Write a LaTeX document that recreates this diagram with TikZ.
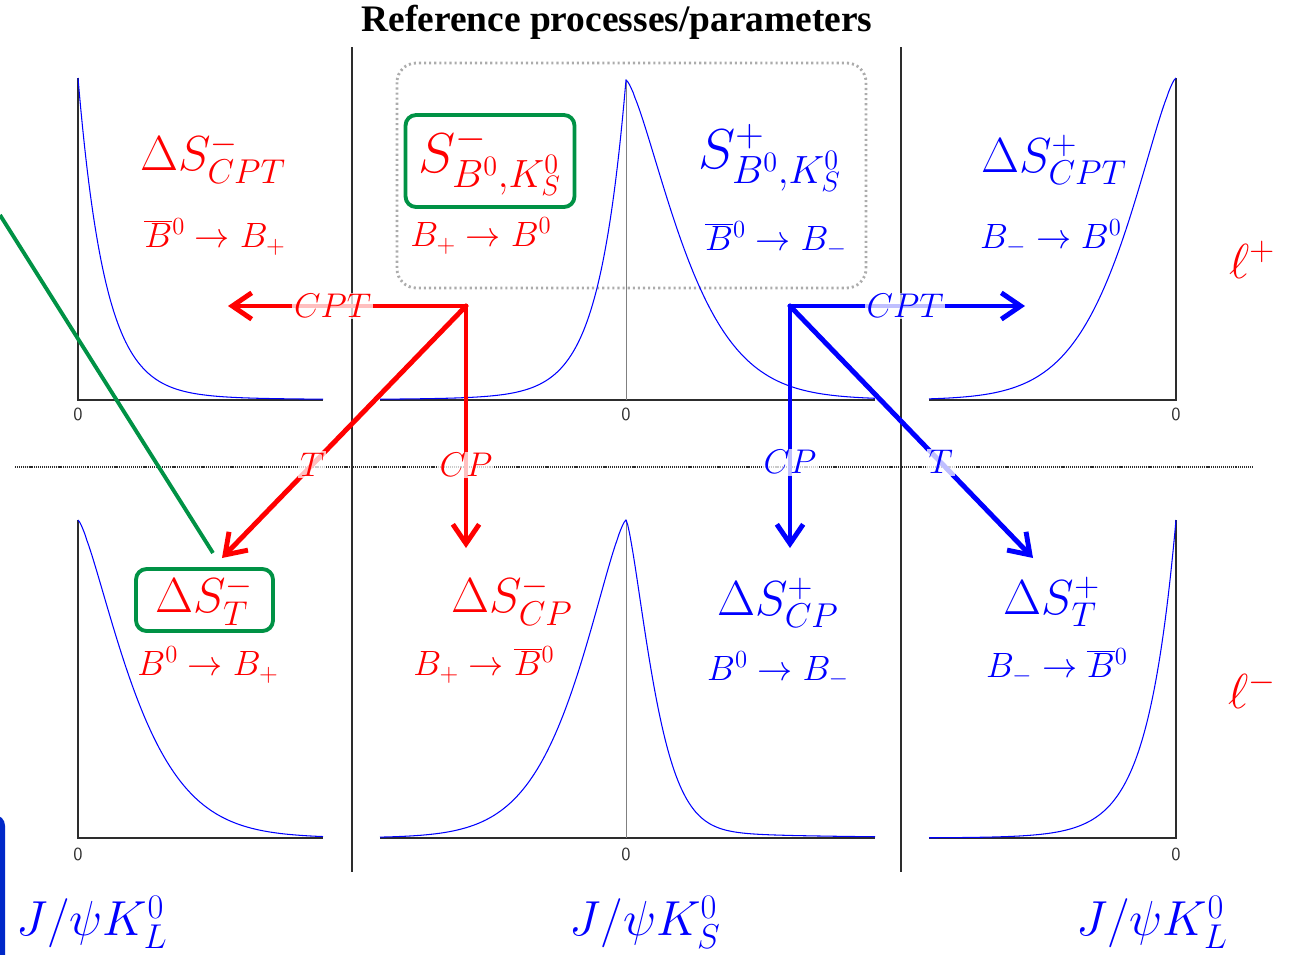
\documentclass[tikz,border=0pt]{standalone}
\usepackage{fix-cm}
\usepackage{fontspec}
\newfontfamily\titlefont{Liberation Serif}
\usetikzlibrary{arrows.meta}
\definecolor{myred}{RGB}{255,0,0}
\definecolor{myblue}{RGB}{0,0,255}
\definecolor{mygreen}{RGB}{0,146,69}
\definecolor{axgray}{RGB}{45,45,45}
\definecolor{navyblue}{RGB}{0,40,200}
\tikzset{
  axisline/.style={draw=axgray, line width=1.1pt},
  midline/.style={draw=gray, line width=0.5pt},
  curve/.style={draw=myblue, line width=0.6pt},
  sepline/.style={draw=axgray, line width=0.9pt},
  hdots/.style={draw=axgray, line width=0.6pt, dash pattern=on 0.6pt off 0.5pt},
  refbox/.style={draw=gray!65, line width=1.6pt, dash pattern=on 1.2pt off 1.7pt, rounded corners=11pt},
  big/.style={font=\fontsize{28}{30}\selectfont, inner sep=0pt},
  bigger/.style={font=\fontsize{32}{34}\selectfont, inner sep=0pt},
  proc/.style={font=\fontsize{20}{22}\selectfont, inner sep=0pt},
  tick/.style={font=\sffamily\fontsize{10.5}{11}\selectfont, text=axgray, inner sep=0pt},
  sym/.style={line width=2.8pt, line cap=round, -{Straight Barb[length=11pt,width=15pt]}},
  symlab/.style={font=\fontsize{19.5}{21}\selectfont, fill=white, fill opacity=0.75, text opacity=1, inner sep=1pt},
  greenbox/.style={draw=mygreen, line width=2.2pt, rounded corners=6pt},
}
\begin{document}
\begin{tikzpicture}[x=0.02cm, y=-0.02cm]
\useasboundingbox (0,0) rectangle (1292,954);
% title
\node[font=\titlefont\bfseries\fontsize{21.3}{23}\selectfont, inner sep=0pt] (title) at (617,22) {Reference processes/parameters};
% separators
\draw[sepline] (352,47) -- (352,872);
\draw[sepline] (901,47) -- (901,872);
\draw[hdots] (15,467) -- (1252,467);
% reference box
\draw[refbox] (397,63) rectangle (866,288);
% partial blue shape at left edge
\fill[navyblue, rounded corners=6pt] (-30,815) rectangle (5,990);
% ---- plots, top row ----
\draw[axisline] (78,78) -- (78,400) -- (323,400);
\draw[curve] plot[domain=0:245, samples=160] ({78+\x}, {400-(316*exp(-\x/27)+6*exp(-\x/120))});
\draw[axisline] (380,400) -- (875,400);
\draw[midline] (626,80) -- (626,400);
\draw[curve] plot[domain=246:0, samples=140] ({626-\x}, {400-(314*exp(-\x/27)+6*exp(-\x/120))})
  -- plot[domain=0.01:249, samples=140] ({626+\x}, {400-(316*exp(-pow(\x/71,1.4))+4*exp(-\x/150))});
\draw[axisline] (929,400) -- (1176,400) -- (1176,78);
\draw[curve] plot[domain=0.01:247, samples=140] ({1176-\x}, {400-(318*exp(-pow(\x/69,1.4))+4*exp(-\x/100))});
% ---- plots, bottom row ----
\draw[axisline] (78,520) -- (78,838) -- (323,838);
\draw[curve] plot[domain=0.01:245, samples=140] ({78+\x}, {838-(314*exp(-pow(\x/68,1.35))+4*exp(-\x/100))});
\draw[axisline] (380,838) -- (875,838);
\draw[midline] (626,520) -- (626,838);
\draw[curve] plot[domain=246:0.01, samples=140] ({626-\x}, {838-(314*exp(-pow(\x/65,1.39))+4*exp(-\x/100))})
  -- plot[domain=0.01:249, samples=140] ({626+\x}, {838-(308*exp(-pow(\x/34,1.39))+10*exp(-\x/120))});
\draw[axisline] (929,838) -- (1176,838) -- (1176,520);
\draw[curve] plot[domain=0:247, samples=160] ({1176-\x}, {838-(306*exp(-\x/28)+12*exp(-\x/60))});
% tick labels
\node[tick] (t1) at (78,414) {0};
\node[tick] (t2) at (626,414) {0};
\node[tick] (t3) at (1176,414) {0};
\node[tick] (t4) at (78,854) {0};
\node[tick] (t5) at (626,854) {0};
\node[tick] (t6) at (1176,854) {0};
% ---- texts top row ----
\node[big, text=myred] (dcptm) at (213,158) {$\Delta S^-_{CPT}$};
\node[proc, text=myred] (p1) at (215,237) {$\overline{B}{}^0 \rightarrow B_+$};
\node[bigger, text=myred, greenbox, minimum width=3.38cm, minimum height=1.84cm] (sm) at (490,161) {$S^-_{B^0,K^0_S}$};
\node[proc, text=myred] (p2) at (481,236) {$B_+ \rightarrow B^0$};
\node[bigger, text=myblue] (sp) at (770,158) {$S^+_{B^0,K^0_S}$};
\node[proc, text=myblue] (p3) at (776,240) {$\overline{B}{}^0 \rightarrow B_-$};
\node[big, text=myblue] (dcptp) at (1054,160) {$\Delta S^+_{CPT}$};
\node[proc, text=myblue] (p4) at (1051,238) {$B_- \rightarrow B^0$};
\node[big, text=myred] (lp) at (1252,260) {$\ell^+$};
% ---- texts bottom row ----
\node[big, text=myred, greenbox, minimum width=2.74cm, minimum height=1.24cm] (dtm) at (204.5,600) {$\Delta S^-_T$};
\node[proc, text=myred] (p5) at (208,665) {$B^0 \rightarrow B_+$};
\node[big, text=myred] (dcpm) at (512,600) {$\Delta S^-_{CP}$};
\node[proc, text=myred] (p6) at (484,665) {$B_+ \rightarrow \overline{B}{}^0$};
\node[big, text=myblue] (dcpp) at (778,603) {$\Delta S^+_{CP}$};
\node[proc, text=myblue] (p7) at (778,670) {$B^0 \rightarrow B_-$};
\node[big, text=myblue] (dtp) at (1052,602) {$\Delta S^+_T$};
\node[proc, text=myblue] (p8) at (1057,667) {$B_- \rightarrow \overline{B}{}^0$};
\node[big, text=myred] (lm) at (1252,690) {$\ell^-$};
% channel labels
\node[big, text=myblue] (jl1) at (92,922) {$J/\psi K^0_L$};
\node[big, text=myblue] (js) at (645,922) {$J/\psi K^0_S$};
\node[big, text=myblue] (jl2) at (1152,922) {$J/\psi K^0_L$};
% ---- symmetry arrows ----
\coordinate (rc) at (466,306);
\coordinate (rl) at (228,306);
\coordinate (rd) at (466,548);
\coordinate (rt) at (222,558);
\coordinate (bc) at (790,306);
\coordinate (br) at (1025,306);
\coordinate (bd) at (790,548);
\coordinate (bt) at (1033,558);
\draw[sym, myred] (rc) -- (rl) node[symlab, text=myred, pos=0.56] (lcptr) {$CPT$};
\draw[sym, myred] (rc) -- (rd) node[symlab, text=myred, pos=0.657] (lcpr) {$CP$};
\draw[sym, myred] (rc) -- (rt) node[symlab, text=myred, pos=0.63] (ltr) {$T$};
\draw[sym, myblue] (bc) -- (br) node[symlab, text=myblue, pos=0.49] (lcptb) {$CPT$};
\draw[sym, myblue] (bc) -- (bd) node[symlab, text=myblue, pos=0.645] (lcpb) {$CP$};
\draw[sym, myblue] (bc) -- (bt) node[symlab, text=myblue, pos=0.62] (ltb) {$T$};
% green pointer line
\coordinate (gs) at (0,215);
\coordinate (ge) at (213,553);
\draw[mygreen, line width=2.2pt] (gs) -- (ge);
\end{tikzpicture}
\end{document}
